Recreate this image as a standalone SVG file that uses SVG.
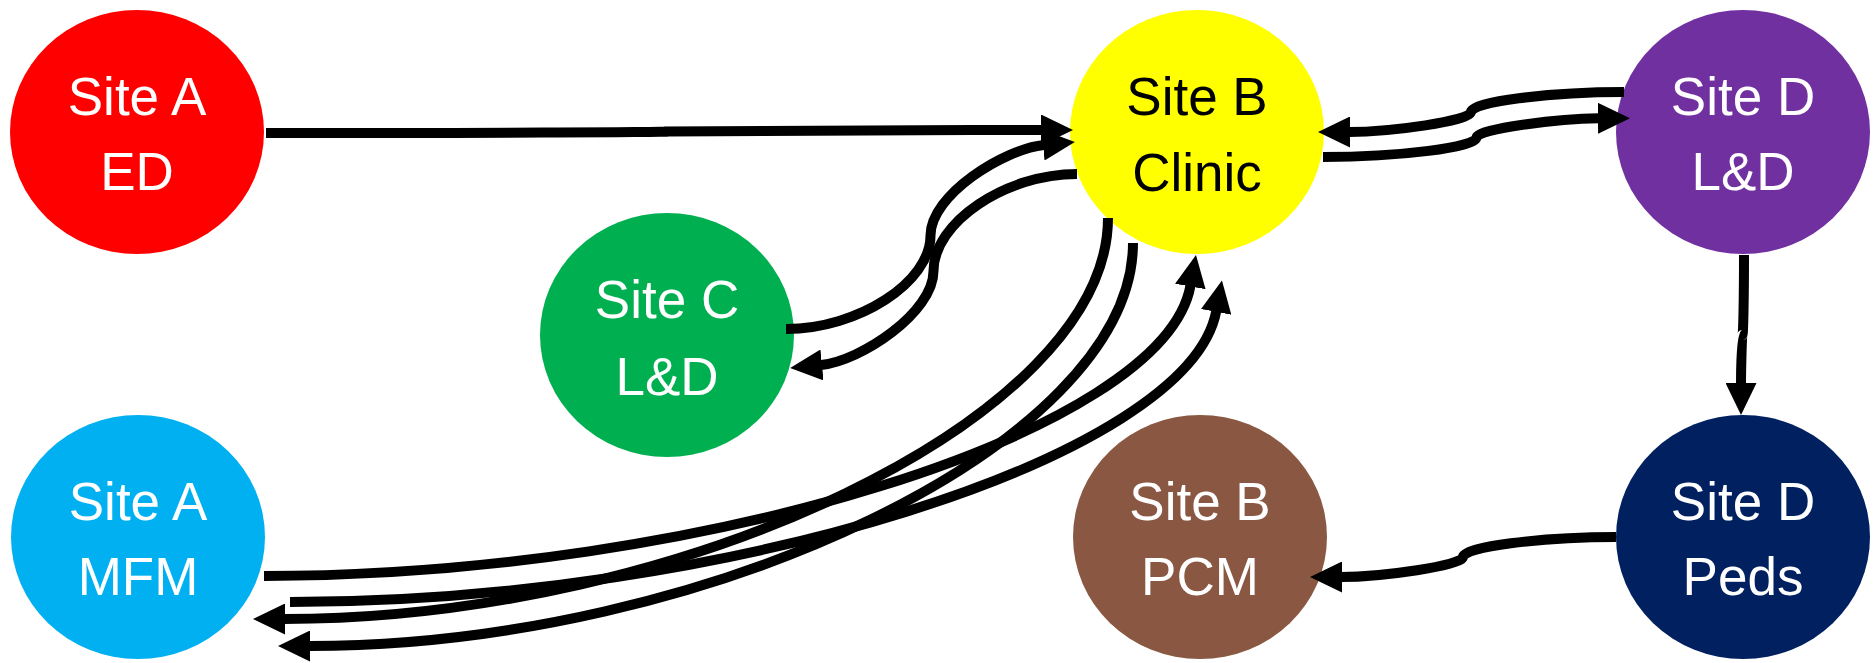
<svg xmlns="http://www.w3.org/2000/svg" width="1875" height="663" viewBox="0 0 1875 663">
<defs>
<style>
.lbl{font-family:"Liberation Sans",Arial,sans-serif;font-size:53px;text-anchor:middle;fill:#FFFFFF}
.dark{fill:#000000}
.con{fill:none;stroke:#000000;stroke-width:10;stroke-linecap:butt;marker-end:url(#ah)}
</style>
<marker id="ah" markerUnits="userSpaceOnUse" viewBox="0 0 32 31" refX="1" refY="15.5" markerWidth="32" markerHeight="31" orient="auto">
<path d="M0,0 L32,15.5 L0,31 Z" fill="#000000"/>
</marker>
</defs>
<rect width="1875" height="663" fill="#FFFFFF"/>
<g id="nodes">
<g id="siteA-ED">
<ellipse cx="137" cy="132" rx="127" ry="122" fill="#FF0000"/>
<text class="lbl" x="137" y="115">Site A</text>
<text class="lbl" x="137" y="190">ED</text>
</g>
<g id="siteB-Clinic">
<ellipse cx="1197" cy="132" rx="127" ry="122" fill="#FFFF00"/>
<text class="lbl dark" x="1197" y="115">Site B</text>
<text class="lbl dark" x="1197" y="191">Clinic</text>
</g>
<g id="siteD-LD">
<ellipse cx="1743" cy="132" rx="127" ry="122" fill="#7030A0"/>
<text class="lbl" x="1743" y="115">Site D</text>
<text class="lbl" x="1743" y="190">L&amp;D</text>
</g>
<g id="siteC-LD">
<ellipse cx="667" cy="335" rx="127" ry="122" fill="#00B050"/>
<text class="lbl" x="667" y="318">Site C</text>
<text class="lbl" x="667" y="395">L&amp;D</text>
</g>
<g id="siteA-MFM">
<ellipse cx="138" cy="537" rx="127" ry="122" fill="#00B0F0"/>
<text class="lbl" x="138" y="520">Site A</text>
<text class="lbl" x="138" y="595">MFM</text>
</g>
<g id="siteB-PCM">
<ellipse cx="1200" cy="537" rx="127" ry="122" fill="#8A5842"/>
<text class="lbl" x="1200" y="520">Site B</text>
<text class="lbl" x="1200" y="595">PCM</text>
</g>
<g id="siteD-Peds">
<ellipse cx="1743" cy="537" rx="127" ry="122" fill="#002060"/>
<text class="lbl" x="1743" y="520">Site D</text>
<text class="lbl" x="1743" y="595">Peds</text>
</g>
</g>
<g id="connectors">
<path id="c-ED-Clinic" class="con" d="M266,133 C467,133 669,132.25 669,131.5 C669,130.75 871,130 1042,130"/>
<path id="c-C-Clinic" class="con" d="M786,329 C858.25,329 930.5,282.25 930.5,235.5 C930.5,195 1004,149 1044,145"/>
<path id="c-Clinic-C" class="con" d="M1077,174 C1005.25,174 933.5,222.5 933.5,271 C933.5,312.5 861,361 821,365"/>
<path id="c-Clinic-MFM1" class="con" d="M1108,218 C1108,418.5 680.5,619 284,619"/>
<path id="c-Clinic-MFM2" class="con" d="M1133,243 C1133,444.5 705.5,646 309,646"/>
<path id="c-MFM-Clinic1" class="con" d="M264,576 C700,576 1164,433 1190.5,285.5"/>
<path id="c-MFM-Clinic2" class="con" d="M290,602 C726,602 1189,458 1216.3,310.9"/>
<path id="c-DLD-Clinic" class="con" d="M1624,92 C1547.5,92 1471,102 1471,112 C1471,121 1390,132 1349,132"/>
<path id="c-Clinic-DLD" class="con" d="M1323,157 C1399.75,157 1476.5,147.25 1476.5,137.5 C1476.5,129 1559,118.5 1599,118.3"/>
<path id="c-DLD-Peds" class="con" d="M1744,255 C1744,295 1743.25,335 1742.5,335 C1741.75,335 1741,375 1741,384"/>
<path id="c-Peds-PCM" class="con" d="M1616,537 C1539.5,537 1463,547 1463,557 C1463,565.6 1381,577 1341,577"/>
</g>
</svg>
